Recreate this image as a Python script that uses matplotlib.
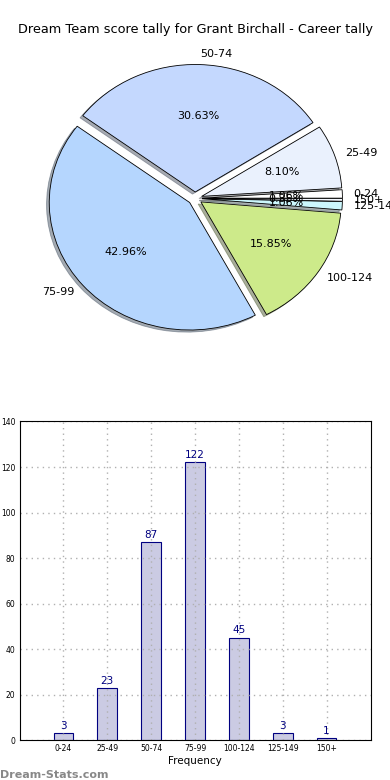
import matplotlib
matplotlib.use("Agg")
import matplotlib.pyplot as plt
import numpy as np

# Datos
bands = ["0-24", "25-49", "50-74", "75-99", "100-124", "125-149", "150+"]
counts = [3, 23, 87, 122, 45, 3, 1]
pie_colors = ["#ffffff", "#eaf1fd", "#c4d8fe", "#b5d6fe", "#cdea8a", "#ccf7fd", "#f4f8ff"]
title = "Dream Team score tally for Grant Birchall - Career tally"

fig = plt.figure(figsize=(3.9, 7.8), dpi=100)
fig.subplots_adjust(left=0.05, right=0.95, bottom=0.051, top=0.95, hspace=0.2)

# ---------- pie ----------
ax1 = fig.add_subplot(211)
wedges, texts, autotexts = ax1.pie(
    counts,
    labels=bands,
    colors=pie_colors,
    explode=[0.05] * len(counts),
    autopct="%.2f%%",
    shadow=dict(ox=-0.014, oy=-0.012, shade=0.6),
    startangle=0,
    labeldistance=1.08,
    wedgeprops=dict(edgecolor="black", linewidth=0.6),
    textprops=dict(fontsize=8),
)
ax1.set_aspect("auto")
ax1.set_xlim(-1.25, 1.25)
ax1.set_ylim(-1.25, 1.25)
ax1.set_title(title, fontsize=9.3, pad=4)

# ---------- bars ----------
ax2 = fig.add_subplot(212)
x = np.arange(len(bands))
bars = ax2.bar(x, counts, width=0.45, color="#cbcbe3", edgecolor="#000080", linewidth=0.8)
for xi, c in zip(x, counts):
    ax2.text(xi, c + 1, str(c), ha="center", va="bottom", color="#000080", fontsize=7.5)
ax2.set_xlim(-1, 7)
ax2.set_ylim(0, 140)
ax2.set_xticks(x)
ax2.set_xticklabels(bands, fontsize=5.5)
ax2.set_yticks(range(0, 141, 20))
ax2.tick_params(axis="y", labelsize=5.5)
ax2.tick_params(length=0, pad=3)
ax2.grid(True, linestyle=(0, (1, 3)), color="#b0b0b0", linewidth=1.0)
ax2.set_axisbelow(False)
for sp in ax2.spines.values():
    sp.set_zorder(5)
ax2.set_xlabel("Frequency", fontsize=7.5, labelpad=2)

fig.text(0.0, 0.003, "Dream-Stats.com", color="#888888", fontsize=8, fontweight="bold")

fig.savefig("out.png", dpi=100)
